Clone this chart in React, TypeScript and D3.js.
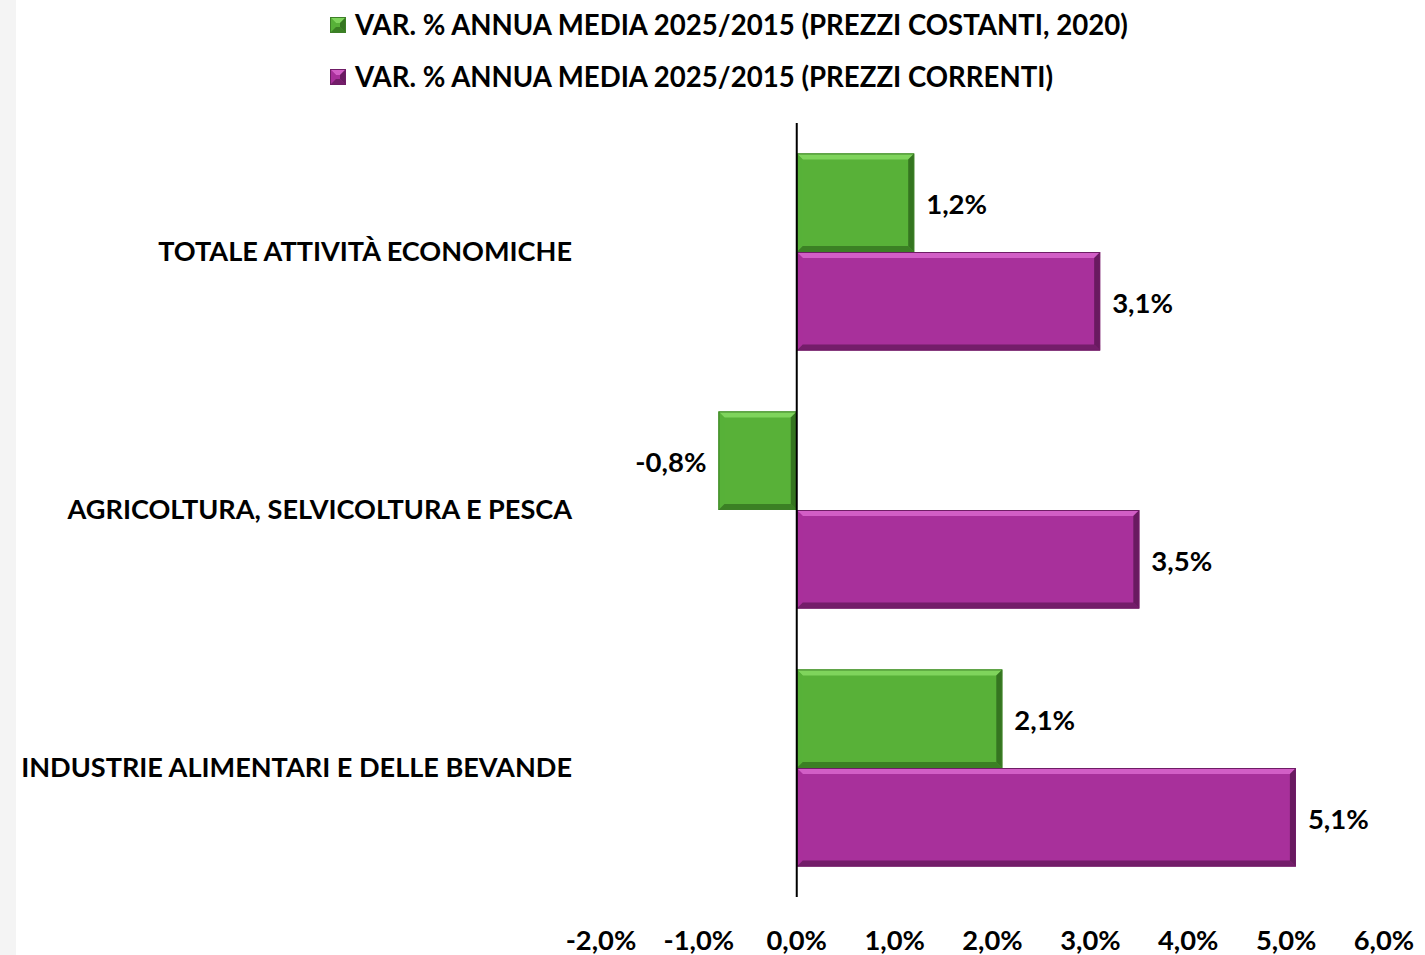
import React from "react";
import * as d3 from "d3";

const categories = [
  "TOTALE ATTIVITÀ ECONOMICHE",
  "AGRICOLTURA, SELVICOLTURA E PESCA",
  "INDUSTRIE ALIMENTARI E DELLE BEVANDE",
];
const seriesNames = [
  "VAR. % ANNUA MEDIA 2025/2015 (PREZZI COSTANTI, 2020)",
  "VAR. % ANNUA MEDIA 2025/2015 (PREZZI CORRENTI)",
];
const costanti = [1.2, -0.8, 2.1];
const correnti = [3.1, 3.5, 5.1];
const tickValues = [-2, -1, 0, 1, 2, 3, 4, 5, 6];

const palettes = [
  { base: "#58b138", light: "#7fd45c", dark: "#2f6b1c", edge: "#3d7f27" },
  { base: "#a8309b", light: "#d25ec6", dark: "#5e1656", edge: "#6f1d66" },
];

const fmt = (v: number) => v.toFixed(1).replace(".", ",") + "%";
const FONT = "Lato, 'Open Sans', sans-serif";

function BevelBar({ x0, x1, y0, y1, pal }: { x0: number; x1: number; y0: number; y1: number; pal: any }) {
  const b = 6;
  const w = x1 - x0;
  const h = y1 - y0;
  const bb = Math.min(b, w / 2, h / 2);
  const pts = (arr: number[][]) => arr.map((p) => p.join(",")).join(" ");
  return (
    <g>
      <rect x={x0} y={y0} width={w} height={h} fill={pal.base} />
      <polygon points={pts([[x0, y0], [x1, y0], [x1 - bb, y0 + bb], [x0 + bb, y0 + bb]])} fill={pal.light} />
      <polygon points={pts([[x0, y0], [x0 + bb, y0 + bb], [x0 + bb, y1 - bb], [x0, y1]])} fill={pal.base} opacity={0.9} />
      <polygon points={pts([[x1, y0], [x1, y1], [x1 - bb, y1 - bb], [x1 - bb, y0 + bb]])} fill={pal.dark} opacity={0.85} />
      <polygon points={pts([[x0, y1], [x1, y1], [x1 - bb, y1 - bb], [x0 + bb, y1 - bb]])} fill={pal.dark} opacity={0.7} />
      <rect x={x0 + 0.5} y={y0 + 0.5} width={w - 1} height={h - 1} fill="none" stroke={pal.edge} strokeWidth={1} />
    </g>
  );
}

export default function App() {
  const W = 1425, H = 955;
  const x = d3.scaleLinear().domain([-2, 6]).range([601, 1384]);
  const y = d3.scaleBand<string>().domain(categories).range([123, 897]).paddingInner(0.236).paddingOuter(0.118);
  const sub = d3.scaleBand<string>().domain(["0", "1"]).range([0, y.bandwidth()]);
  const series = [costanti, correnti];

  return (
    <svg width={W} height={H} style={{ position: "absolute", left: 0, top: 0, background: "#fff" }}>
      <rect x={0} y={0} width={16} height={H} fill="#f4f4f4" />
      {/* legend */}
      {seriesNames.map((n, i) => (
        <g key={n} transform={`translate(330, ${25 + i * 52})`}>
          <BevelBar x0={0} x1={16} y0={-8} y1={8} pal={palettes[i]} />
          <text x={25} y={0} dy="0.35em" fontFamily={FONT} fontWeight={700} fontSize={27.6} fill="#000">{n}</text>
        </g>
      ))}
      {/* bars */}
      {categories.map((c, ci) =>
        series.map((s, si) => {
          const v = s[ci];
          const y0 = (y(c) as number) + (sub(String(si)) as number);
          const y1 = y0 + sub.bandwidth();
          const xa = x(Math.min(0, v)), xb = x(Math.max(0, v));
          return (
            <g key={c + si}>
              <BevelBar x0={xa} x1={xb} y0={y0} y1={y1} pal={palettes[si]} />
              <text
                x={v >= 0 ? xb + 12 : xa - 12}
                y={(y0 + y1) / 2 + 2}
                dy="0.35em"
                textAnchor={v >= 0 ? "start" : "end"}
                fontFamily={FONT}
                fontWeight={700}
                fontSize={27.5}
                fill="#000"
              >
                {fmt(v)}
              </text>
            </g>
          );
        })
      )}
      {/* category labels */}
      {categories.map((c) => (
        <text key={c} x={572} y={(y(c) as number) + y.bandwidth() / 2} dy="0.35em" textAnchor="end"
          fontFamily={FONT} fontWeight={700} fontSize={27.1} fill="#000">{c}</text>
      ))}
      {/* axis line */}
      <line x1={x(0)} x2={x(0)} y1={123} y2={897} stroke="#000" strokeWidth={2} />
      {/* ticks */}
      {tickValues.map((t) => (
        <text key={t} x={x(t)} y={940} dy="0.35em" textAnchor="middle" fontFamily={FONT} fontWeight={700} fontSize={27.3} fill="#000">
          {fmt(t)}
        </text>
      ))}
    </svg>
  );
}
